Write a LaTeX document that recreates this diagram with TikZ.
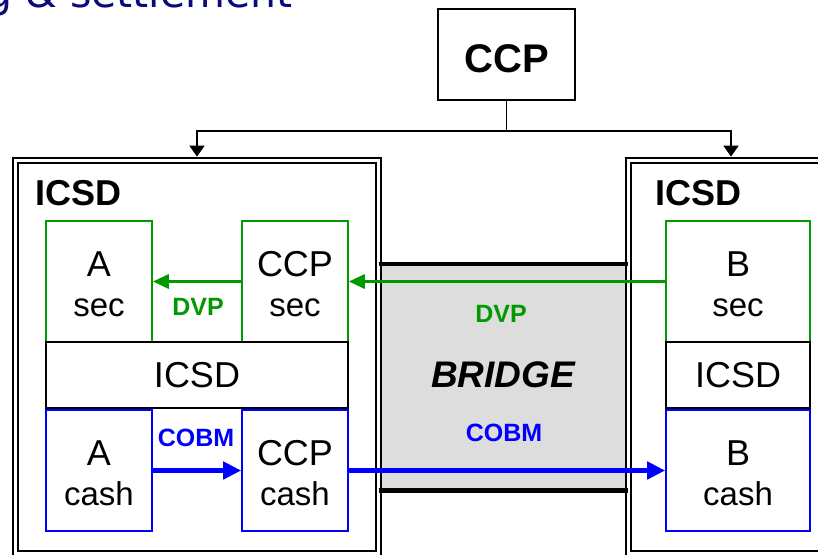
\documentclass[tikz,border=0pt]{standalone}
\usepackage{fontspec}
\setmainfont{Liberation Sans}
\newfontfamily\titlefont{DejaVu Sans}
\usetikzlibrary{arrows.meta, positioning}

\newcommand{\acctkind}[1]{{\fontsize{33}{40}\selectfont #1}}

\begin{document}
\begin{tikzpicture}[x=1pt, y=-1pt,
    box/.style={draw, line width=1.6pt, inner sep=0pt, minimum width=106pt, minimum height=121pt, align=center, font=\fontsize{36}{40}\selectfont},
    secbox/.style={box, draw=mygreen, text height=70pt},
    cashbox/.style={box, draw=myblue, text height=70pt},
    midbox/.style={box, draw=black, line width=2pt, minimum height=66pt},
    icsdbox/.style={draw=black, double=white, line width=2.3pt, double distance=2.6pt, outer sep=3.6pt, inner sep=0pt, minimum height=393.3pt},
    hdr/.style={font=\fontsize{36}{40}\selectfont\bfseries, anchor=base west, inner sep=0pt},
    tag/.style={font=\fontsize{25}{28}\selectfont\bfseries, inner sep=0pt},
    feed/.style={line width=1.7pt},
    dvp/.style={mygreen, line width=3.2pt, -{Triangle[length=16pt, width=14pt]}},
    cobm/.style={myblue, line width=5pt, -{Triangle[length=18pt, width=17pt]}}
]
    % Colours
    \definecolor{mygreen}{RGB}{0, 153, 0}
    \definecolor{myblue}{RGB}{0, 0, 255}
    \definecolor{mynavy}{RGB}{10, 10, 120}
    \definecolor{bridgegray}{RGB}{221, 221, 221}

    \useasboundingbox (0,0) rectangle (818,554);

    % 1. Title (cut by the page edge)
    \node[anchor=base east, inner sep=0pt, text=mynavy, font=\titlefont\fontsize{41}{44}\selectfont] (title) at (293,8) {g \& settlement};

    % 2. The bridge between both ICSDs
    \node[fill=bridgegray, inner sep=0pt, outer sep=0pt, minimum width=249.6pt, minimum height=226.5pt] (bridge) at (503.5,377.25) {};

    % 3. Both ICSD frames (double line)
    \node[icsdbox, minimum width=363.4pt] (icsdL) at (197,356.9) {};
    \node[icsdbox, minimum width=205.4pt] (icsdR) at (731,356.9) {};
    \draw[line width=4.5pt] (bridge.north west) -- (bridge.north east);
    \draw[line width=4.5pt] (bridge.south west) -- (bridge.south east);

    \node[hdr] (hdrL) at (35,205) {ICSD};
    \node[hdr] (hdrR) at (655,205) {ICSD};

    % 4. CCP on top, feeding both ICSDs
    \node[draw, line width=1.7pt, inner sep=0pt, minimum width=137pt, minimum height=91pt, text height=35pt, text depth=0pt, font=\fontsize{40}{44}\selectfont\bfseries] (ccp) at (506.5,54.5) {CCP};
    \draw[feed] (ccp.south) -- ++(0,30) coordinate (fork);
    \draw[feed, -{Triangle[length=11pt, width=15pt]}] (fork) -| (icsdL.north);
    \draw[feed, -{Triangle[length=11pt, width=15pt]}] (fork) -| (icsdR.north);

    % 5. Accounts inside the left ICSD
    \node[secbox] (asec) at (99,281.5) {A\\\acctkind{sec}};
    \node[secbox] (ccpsec) at (295,281.5) {CCP\\\acctkind{sec}};
    \node[midbox, minimum width=302pt] (icsdA) at (197,375) {ICSD};
    \node[cashbox] (acash) at (99,470.5) {A\\\acctkind{cash}};
    \node[cashbox] (ccpcash) at (295,470.5) {CCP\\\acctkind{cash}};

    % 6. Accounts inside the right ICSD
    \node[secbox, minimum width=144pt] (bsec) at (738,281.5) {B\\\acctkind{sec}};
    \node[midbox, minimum width=144pt] (icsdB) at (738,375) {ICSD};
    \node[cashbox, minimum width=144pt] (bcash) at (738,470.5) {B\\\acctkind{cash}};

    % 7. Flows
    \draw[dvp] (ccpsec.west) -- (asec.east);
    \draw[dvp] (bsec.west) -- (ccpsec.east);
    \draw[cobm] (acash.east) -- (ccpcash.west);
    \draw[cobm] (ccpcash.east) -- (bcash.west);

    \node[tag, text=mygreen] (dvpL) at (198,307) {DVP};
    \node[tag, text=myblue] (cobmL) at (196,438) {COBM};
    \node[tag, text=mygreen] (dvpM) at (501,314) {DVP};
    \node[font=\fontsize{37}{40}\selectfont\bfseries\itshape, inner sep=0pt] (bridgelbl) at (503,375) {BRIDGE};
    \node[tag, text=myblue] (cobmM) at (504,433) {COBM};

\end{tikzpicture}
\end{document}
